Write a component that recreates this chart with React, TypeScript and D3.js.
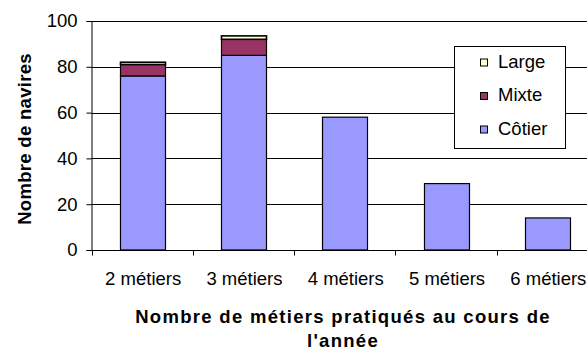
import { useEffect, useRef } from "react";
import * as d3 from "d3";

const categories = ["2 métiers", "3 métiers", "4 métiers", "5 métiers", "6 métiers"];
const cotier = [76, 85, 58, 29, 14];
const mixte = [5, 7, 0, 0, 0];
const large = [1, 1.5, 0, 0, 0];
const seriesNames = ["Côtier", "Mixte", "Large"];
const seriesColors = ["#9999FF", "#993366", "#FFFFCC"];
const yTicks = [0, 20, 40, 60, 80, 100];

const App = () => {
  const ref = useRef<SVGSVGElement>(null);

  useEffect(() => {
    const svg = d3.select(ref.current);
    svg.selectAll("*").remove();
    const font = "'Liberation Sans', Arial, sans-serif";
    const fs = 18.5;

    const x = d3.scaleBand().domain(categories).range([91.5, 598]).paddingInner(0).paddingOuter(0);
    const y = d3.scaleLinear().domain([0, 100]).range([250, 21]);

    // gridlines
    svg.append("g")
      .selectAll("line")
      .data(yTicks.filter(d => d > 0))
      .enter()
      .append("line")
      .attr("x1", 91.5).attr("x2", 598)
      .attr("y1", d => Math.round(y(d)) + 0.5).attr("y2", d => Math.round(y(d)) + 0.5)
      .attr("stroke", "#000");

    const rows = categories.map((c, i) => ({ cat: c, "Côtier": cotier[i], "Mixte": mixte[i], "Large": large[i] }));
    const stacked = d3.stack<any>().keys(seriesNames)(rows);

    const barW = 45;
    stacked.forEach((layer, si) => {
      svg.append("g")
        .selectAll("rect")
        .data(layer.filter(d => d[1] - d[0] > 0))
        .enter()
        .append("rect")
        .attr("x", d => Math.round(x(d.data.cat)! + x.bandwidth() / 2 - barW / 2) + 0.5)
        .attr("width", barW)
        .attr("y", d => y(d[1]))
        .attr("height", d => y(d[0]) - y(d[1]))
        .attr("fill", seriesColors[si])
        .attr("stroke", "#000")
        .attr("stroke-width", si === 2 ? 1.6 : 1.2);
    });

    // y axis
    const yAxis = d3.axisLeft(y).tickValues(yTicks).tickSize(5).tickPadding(9);
    const ya = svg.append("g").attr("transform", "translate(91.5,0)").call(yAxis);
    ya.select(".domain").attr("stroke", "#000");
    ya.selectAll("text").attr("font-family", font).attr("font-size", fs).attr("fill", "#000");

    // x axis
    const xa = svg.append("g").attr("transform", "translate(0,250.5)");
    xa.append("line").attr("x1", 91.5).attr("x2", 598).attr("stroke", "#000");
    xa.selectAll("line.tk")
      .data(categories)
      .enter()
      .append("line")
      .attr("class", "tk")
      .attr("x1", d => Math.round(x(d)!) + 0.5).attr("x2", d => Math.round(x(d)!) + 0.5)
      .attr("y1", 0).attr("y2", 5)
      .attr("stroke", "#000");
    xa.selectAll("text")
      .data(categories)
      .enter()
      .append("text")
      .attr("x", d => x(d)! + x.bandwidth() / 2 + 1)
      .attr("y", 34.5)
      .attr("text-anchor", "middle")
      .attr("font-family", font)
      .attr("font-size", fs)
      .text(d => d);

    // axis titles
    svg.append("text")
      .attr("transform", "translate(31,139) rotate(-90)")
      .attr("text-anchor", "middle")
      .attr("font-family", font)
      .attr("font-size", fs)
      .attr("font-weight", "bold")
      .attr("letter-spacing", 0.3)
      .text("Nombre de navires");

    const xt = svg.append("text")
      .attr("text-anchor", "middle")
      .attr("font-family", font)
      .attr("font-size", fs)
      .attr("font-weight", "bold")
      .attr("letter-spacing", 1.3);
    xt.append("tspan").attr("x", 343).attr("y", 323).text("Nombre de métiers pratiqués au cours de");
    xt.append("tspan").attr("x", 343).attr("y", 347).text("l'année");

    // legend
    const lg = svg.append("g").attr("transform", "translate(454.5,46.5)");
    lg.append("rect").attr("width", 111).attr("height", 102).attr("fill", "#fff").attr("stroke", "#000");
    const order = [2, 1, 0];
    order.forEach((si, k) => {
      const base = 21 + k * 33.5;
      lg.append("rect")
        .attr("x", 26).attr("y", base - 8.5)
        .attr("width", 7).attr("height", 7)
        .attr("fill", seriesColors[si]).attr("stroke", "#000");
      lg.append("text")
        .attr("x", 43.5).attr("y", base)
        .attr("font-family", font).attr("font-size", fs)
        .text(seriesNames[si]);
    });
  }, []);

  return (
    <svg ref={ref} width={587} height={351} style={{ position: "absolute", left: 0, top: 0, background: "#fff" }} />
  );
};

export default App;
